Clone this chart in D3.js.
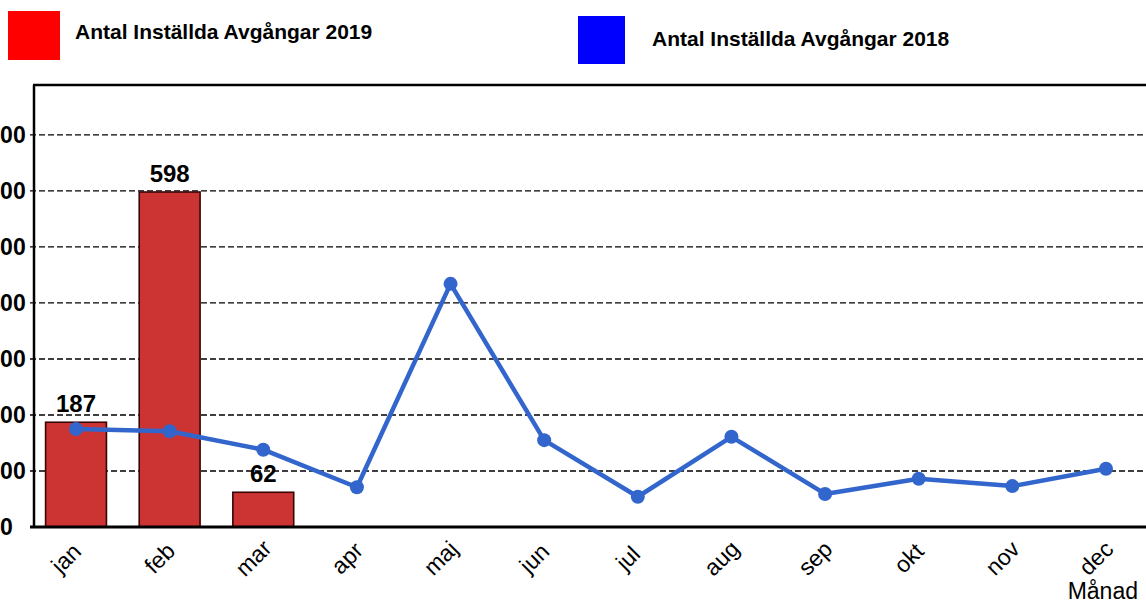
<!DOCTYPE html>
<html>
<head>
<meta charset="utf-8">
<script src="https://cdn.jsdelivr.net/npm/d3@7"></script>
<style>
  body { margin: 0; background: #fff; }
  svg { display: block; font-family: "Liberation Sans", Arial, sans-serif; }
</style>
</head>
<body>
<div id="chart"></div>
<script>
/* Inställda avgångar per månad, 2019 (staplar) mot 2018 (linje) */

const months = ["jan", "feb", "mar", "apr", "maj", "jun", "jul", "aug", "sep", "okt", "nov", "dec"];
const values2019 = [187, 598, 62]; // bara jan-mar
const values2018 = [175, 171, 138, 71, 434, 155, 54, 161, 59, 86, 73, 104];
const yTicks = [0, 100, 200, 300, 400, 500, 600, 700];
const legendLabels = ["Antal Inställda Avgångar 2019", "Antal Inställda Avgångar 2018"];

const width = 1146,
      height = 603,
      margin = ({ top: 85, right: -7, bottom: 76, left: 34 });

let svg = d3.select("#chart")
    .append("svg")
    .attr("width", width)
    .attr("height", height)
    .attr("viewBox", [0, 0, width, height]);

let x = d3.scalePoint()
    .domain(months)
    .range([29.2, 1152.8])
    .padding(0.5);

let barW = x.step() * 0.65;

let y = d3.scaleLinear()
    .domain([0, 789])
    .range([height - margin.bottom, margin.top]);

// dashed gridlines
svg.append("g")
    .selectAll("line")
    .data(yTicks.filter(d => d > 0))
    .join("line")
    .attr("x1", margin.left - 4)
    .attr("x2", width + 20)
    .attr("y1", d => y(d))
    .attr("y2", d => y(d))
    .attr("stroke", "#000")
    .attr("stroke-width", 1.4)
    .attr("stroke-dasharray", "6,3");

// y tick labels (centered, partly cut off on the left like the original)
svg.append("g")
    .selectAll("text")
    .data(yTicks)
    .join("text")
    .attr("x", 6.5)
    .attr("y", d => y(d))
    .attr("dy", "0.36em")
    .attr("text-anchor", "middle")
    .style("font-size", "23px")
    .style("font-weight", "bold")
    .text(d => d);

// bars 2019
let bar = svg.selectAll(".bar")
    .data(values2019)
    .join("g")
    .attr("class", "bar");

bar.append("rect")
    .attr("x", (d, i) => x(months[i]) - barW / 2)
    .attr("y", d => y(d))
    .attr("width", barW)
    .attr("height", d => y(0) - y(d))
    .attr("fill", "#cc3333")
    .attr("stroke", "#3a0505")
    .attr("stroke-width", 1.6);

bar.append("text")
    .attr("x", (d, i) => x(months[i]))
    .attr("y", d => y(d) - 10)
    .attr("text-anchor", "middle")
    .style("font-size", "24px")
    .style("font-weight", "bold")
    .text(d => d);

// line 2018
let line = d3.line()
    .x((d, i) => x(months[i]))
    .y(d => y(d));

svg.append("path")
    .datum(values2018)
    .attr("fill", "none")
    .attr("stroke", "#3366cc")
    .attr("stroke-width", 4.5)
    .attr("stroke-linejoin", "round")
    .attr("d", line);

svg.append("g")
    .selectAll("circle")
    .data(values2018)
    .join("circle")
    .attr("cx", (d, i) => x(months[i]))
    .attr("cy", d => y(d))
    .attr("r", 7)
    .attr("fill", "#3366cc");

// frame: left, top, bottom
svg.append("line")
    .attr("x1", margin.left).attr("x2", margin.left)
    .attr("y1", margin.top).attr("y2", y(0))
    .attr("stroke", "#000").attr("stroke-width", 2.5);

svg.append("line")
    .attr("x1", margin.left - 1).attr("x2", width + 20)
    .attr("y1", margin.top).attr("y2", margin.top)
    .attr("stroke", "#000").attr("stroke-width", 2.5);

svg.append("line")
    .attr("x1", margin.left - 4).attr("x2", width + 20)
    .attr("y1", y(0)).attr("y2", y(0))
    .attr("stroke", "#000").attr("stroke-width", 3);

// month labels, rotated
svg.append("g")
    .selectAll("text")
    .data(months)
    .join("text")
    .attr("transform", d => `translate(${x(d) - 10},${y(0) + 31}) rotate(-45)`)
    .attr("text-anchor", "middle")
    .attr("dy", "0.35em")
    .style("font-size", "23px")
    .text(d => d);

svg.append("text")
    .attr("x", 1138)
    .attr("y", 599)
    .attr("text-anchor", "end")
    .style("font-size", "23px")
    .text("Månad");

// legend
let legend = [
    { color: "#ff0000", rx: 8, ry: 11, rw: 52, rh: 49, tx: 75, ty: 39 },
    { color: "#0000ff", rx: 578, ry: 16, rw: 47, rh: 48, tx: 652, ty: 46 }
];

legend.forEach((l, i) => {
    svg.append("rect")
        .attr("x", l.rx).attr("y", l.ry)
        .attr("width", l.rw).attr("height", l.rh)
        .attr("fill", l.color);
    svg.append("text")
        .attr("x", l.tx).attr("y", l.ty)
        .style("font-size", "21px")
        .style("font-weight", "bold")
        .text(legendLabels[i]);
});
</script>
</body>
</html>
